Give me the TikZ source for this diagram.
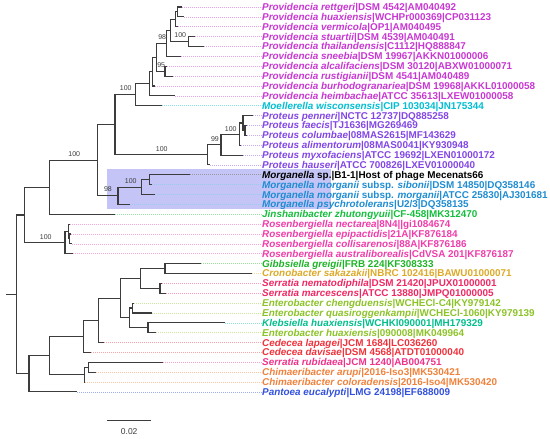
\documentclass[tikz,border=0pt]{standalone}
\usepackage{fontspec}
\setmainfont{Liberation Sans}
\usepackage{tikz}
\definecolor{prov}{RGB}{200,55,210}
\definecolor{moell}{RGB}{0,190,210}
\definecolor{prot}{RGB}{130,70,230}
\definecolor{morg}{RGB}{30,140,210}
\definecolor{jin}{RGB}{20,190,60}
\definecolor{ros}{RGB}{240,60,170}
\definecolor{gibbs}{RGB}{30,180,40}
\definecolor{crono}{RGB}{220,170,40}
\definecolor{serr}{RGB}{240,40,100}
\definecolor{ent}{RGB}{140,195,40}
\definecolor{kleb}{RGB}{0,190,140}
\definecolor{ced}{RGB}{240,50,60}
\definecolor{rub}{RGB}{240,50,140}
\definecolor{chim}{RGB}{240,130,60}
\definecolor{pant}{RGB}{50,80,220}
\definecolor{hilite}{RGB}{196,196,246}
\definecolor{treeline}{RGB}{60,60,60}

\begin{document}
\begin{tikzpicture}[x=1pt,y=-1pt,
  taxon/.style={anchor=west,inner sep=0pt,font=\fontsize{9.9}{10}\selectfont\bfseries,text height=7pt,text depth=0pt},
  boot/.style={inner sep=0pt,font=\fontsize{7}{8}\selectfont,text=treeline},
  branch/.style={draw=treeline,line width=1.1pt},
  elbow/.style={to path={|- (\tikztotarget)}},
  leader/.style={line width=0.6pt,dash pattern=on 1pt off 1pt}]
  \useasboundingbox (0,0) rectangle (550,439);
  \fill[hilite] (107.3,169.3) rectangle (331,209.3);

  \coordinate (t0) at (181.7,7.00);
  \coordinate (t1) at (184.0,16.87);
  \coordinate (t2) at (178.3,26.74);
  \coordinate (t3) at (195.0,36.61);
  \coordinate (t4) at (204.0,46.48);
  \coordinate (t5) at (181.0,56.35);
  \coordinate (t6) at (166.5,66.22);
  \coordinate (t7) at (173.3,76.09);
  \coordinate (t8) at (155.0,85.96);
  \coordinate (t9) at (175.0,95.83);
  \coordinate (t10) at (161.7,105.70);
  \coordinate (t11) at (253.0,115.57);
  \coordinate (t12) at (246.5,125.44);
  \coordinate (t13) at (247.0,135.31);
  \coordinate (t14) at (241.0,145.18);
  \coordinate (t15) at (243.0,155.05);
  \coordinate (t16) at (210.0,164.92);
  \coordinate (t17) at (190.0,174.79);
  \coordinate (t18) at (151.7,184.66);
  \coordinate (t19) at (155.0,194.53);
  \coordinate (t20) at (130.0,204.40);
  \coordinate (t21) at (115.0,214.27);
  \coordinate (t22) at (70.0,224.14);
  \coordinate (t23) at (71.0,234.01);
  \coordinate (t24) at (72.0,243.88);
  \coordinate (t25) at (73.3,253.75);
  \coordinate (t26) at (200.7,263.62);
  \coordinate (t27) at (252.0,273.49);
  \coordinate (t28) at (162.0,283.36);
  \coordinate (t29) at (165.7,293.23);
  \coordinate (t30) at (134.0,303.10);
  \coordinate (t31) at (151.7,312.97);
  \coordinate (t32) at (225.0,322.84);
  \coordinate (t33) at (155.7,332.71);
  \coordinate (t34) at (104.0,342.58);
  \coordinate (t35) at (91.0,352.45);
  \coordinate (t36) at (163.3,362.32);
  \coordinate (t37) at (95.7,372.19);
  \coordinate (t38) at (85.0,382.06);
  \coordinate (t39) at (77.3,391.93);

  \coordinate (n01) at (177.7,11.9);
  \coordinate (n012) at (175.5,19.3);
  \coordinate (n34) at (188.3,41.5);
  \coordinate (n04) at (170.7,30.4);
  \coordinate (n05) at (166.7,43.4);
  \coordinate (n67) at (165.0,71.2);
  \coordinate (n07) at (156.7,57.3);
  \coordinate (n08) at (152.7,71.6);
  \coordinate (n09) at (149.3,83.7);
  \coordinate (n010) at (135.7,94.7);
  \coordinate (nE) at (245.0,130.4);
  \coordinate (nD) at (243.0,123.0);
  \coordinate (nC) at (239.5,134.1);
  \coordinate (nB) at (221.0,144.6);
  \coordinate (nA) at (207.7,154.8);
  \coordinate (n016) at (115.0,124.7);
  \coordinate (m1) at (149.3,179.7);
  \coordinate (m2) at (141.7,187.1);
  \coordinate (m3) at (118.0,195.8);
  \coordinate (nP) at (97.3,160.3);
  \coordinate (nQ) at (49.3,187.3);
  \coordinate (r23) at (69.5,238.9);
  \coordinate (r1) at (68.3,231.5);
  \coordinate (nS) at (65.0,242.6);
  \coordinate (nR) at (24.3,215.0);
  \coordinate (g1) at (165.0,268.6);
  \coordinate (s1) at (160.0,288.3);
  \coordinate (nZ) at (140.7,278.4);
  \coordinate (e1) at (132.6,308.0);
  \coordinate (k1) at (148.0,327.8);
  \coordinate (e2) at (129.5,317.9);
  \coordinate (nY) at (120.7,298.2);
  \coordinate (c1) at (98.3,320.4);
  \coordinate (c2) at (83.3,336.4);
  \coordinate (nW) at (88.3,367.3);
  \coordinate (nV) at (84.3,374.6);
  \coordinate (L2) at (49.3,355.5);
  \coordinate (L1) at (29.0,373.7);
  \coordinate (root) at (16.7,294.4);
  \coordinate (stub) at (6.0,294.4);

  \node[taxon,text=prov] (l0) at (262,7.00) {\textit{Providencia rettgeri}|DSM 4542|AM040492};
  \node[taxon,text=prov] (l1) at (262,16.87) {\textit{Providencia huaxiensis}|WCHPr000369|CP031123};
  \node[taxon,text=prov] (l2) at (262,26.74) {\textit{Providencia vermicola}|OP1|AM040495};
  \node[taxon,text=prov] (l3) at (262,36.61) {\textit{Providencia stuartii}|DSM 4539|AM040491};
  \node[taxon,text=prov] (l4) at (262,46.48) {\textit{Providencia thailandensis}|C1112|HQ888847};
  \node[taxon,text=prov] (l5) at (262,56.35) {\textit{Providencia sneebia}|DSM 19967|AKKN01000006};
  \node[taxon,text=prov] (l6) at (262,66.22) {\textit{Providencia alcalifaciens}|DSM 30120|ABXW01000071};
  \node[taxon,text=prov] (l7) at (262,76.09) {\textit{Providencia rustigianii}|DSM 4541|AM040489};
  \node[taxon,text=prov] (l8) at (262,85.96) {\textit{Providencia burhodogranariea}|DSM 19968|AKKL01000058};
  \node[taxon,text=prov] (l9) at (262,95.83) {\textit{Providencia heimbachae}|ATCC 35613|LXEW01000058};
  \node[taxon,text=moell] (l10) at (262,105.70) {\textit{Moellerella wisconsensis}|CIP 103034|JN175344};
  \node[taxon,text=prot] (l11) at (262,115.57) {\textit{Proteus penneri}|NCTC 12737|DQ885258};
  \node[taxon,text=prot] (l12) at (262,125.44) {\textit{Proteus faecis}|TJ1636|MG269469};
  \node[taxon,text=prot] (l13) at (262,135.31) {\textit{Proteus columbae}|08MAS2615|MF143629};
  \node[taxon,text=prot] (l14) at (262,145.18) {\textit{Proteus alimentorum}|08MAS0041|KY930948};
  \node[taxon,text=prot] (l15) at (262,155.05) {\textit{Proteus myxofaciens}|ATCC 19692|LXEN01000172};
  \node[taxon,text=prot] (l16) at (262,164.92) {\textit{Proteus hauseri}|ATCC 700826|LXEV01000040};
  \node[taxon,text=black] (l17) at (262,174.79) {\textit{Morganella} sp.|B1-1|Host of phage Mecenats66};
  \node[taxon,text=morg] (l18) at (262,184.66) {\textit{Morganella morganii} subsp. \textit{sibonii}|DSM 14850|DQ358146};
  \node[taxon,text=morg] (l19) at (262,194.53) {\textit{Morganella morganii} subsp. \textit{morganii}|ATCC 25830|AJ301681};
  \node[taxon,text=morg] (l20) at (262,204.40) {\textit{Morganella psychrotolerans}|U2/3|DQ358135};
  \node[taxon,text=jin] (l21) at (262,214.27) {\textit{Jinshanibacter zhutongyuii}|CF-458|MK312470};
  \node[taxon,text=ros] (l22) at (262,224.14) {\textit{Rosenbergiella nectarea}|8N4||gi1084674};
  \node[taxon,text=ros] (l23) at (262,234.01) {\textit{Rosenbergiella epipactidis}|21A|KF876184};
  \node[taxon,text=ros] (l24) at (262,243.88) {\textit{Rosenbergiella collisarenosi}|88A|KF876186};
  \node[taxon,text=ros] (l25) at (262,253.75) {\textit{Rosenbergiella australiborealis}|CdVSA 201|KF876187};
  \node[taxon,text=gibbs] (l26) at (262,263.62) {\textit{Gibbsiella greigii}|FRB 224|KF308333};
  \node[taxon,text=crono] (l27) at (262,273.49) {\textit{Cronobacter sakazakii}|NBRC 102416|BAWU01000071};
  \node[taxon,text=serr] (l28) at (262,283.36) {\textit{Serratia nematodiphila}|DSM 21420|JPUX01000001};
  \node[taxon,text=serr] (l29) at (262,293.23) {\textit{Serratia marcescens}|ATCC 13880|JMPQ01000005};
  \node[taxon,text=ent] (l30) at (262,303.10) {\textit{Enterobacter chengduensis}|WCHECl-C4|KY979142};
  \node[taxon,text=ent] (l31) at (262,312.97) {\textit{Enterobacter quasiroggenkampii}|WCHECl-1060|KY979139};
  \node[taxon,text=kleb] (l32) at (262,322.84) {\textit{Klebsiella huaxiensis}|WCHKl090001|MH179329};
  \node[taxon,text=ent] (l33) at (262,332.71) {\textit{Enterobacter huaxiensis}|090008|MK049964};
  \node[taxon,text=ced] (l34) at (262,342.58) {\textit{Cedecea lapagei}|JCM 1684|LC036260};
  \node[taxon,text=ced] (l35) at (262,352.45) {\textit{Cedecea davisae}|DSM 4568|ATDT01000040};
  \node[taxon,text=rub] (l36) at (262,362.32) {\textit{Serratia rubidaea}|JCM 1240|AB004751};
  \node[taxon,text=chim] (l37) at (262,372.19) {\textit{Chimaeribacter arupi}|2016-Iso3|MK530421};
  \node[taxon,text=chim] (l38) at (262,382.06) {\textit{Chimaeribacter coloradensis}|2016-Iso4|MK530420};
  \node[taxon,text=pant] (l39) at (262,391.93) {\textit{Pantoea eucalypti}|LMG 24198|EF688009};

  \path[leader]
    (t0) edge[prov!45] (l0)   (t1) edge[prov!45] (l1)   (t2) edge[prov!45] (l2)
    (t3) edge[prov!45] (l3)   (t4) edge[prov!45] (l4)   (t5) edge[prov!45] (l5)
    (t6) edge[prov!45] (l6)   (t7) edge[prov!45] (l7)   (t8) edge[prov!45] (l8)
    (t9) edge[prov!45] (l9)   (t10) edge[moell!45] (l10)
    (t11) edge[prot!45] (l11) (t12) edge[prot!45] (l12) (t13) edge[prot!45] (l13)
    (t14) edge[prot!45] (l14) (t15) edge[prot!45] (l15) (t16) edge[prot!45] (l16)
    (t17) edge[black!40] (l17) (t18) edge[morg!45] (l18) (t19) edge[morg!45] (l19)
    (t20) edge[morg!45] (l20) (t21) edge[jin!45] (l21)
    (t22) edge[ros!45] (l22)  (t23) edge[ros!45] (l23)  (t24) edge[ros!45] (l24)
    (t25) edge[ros!45] (l25)  (t26) edge[gibbs!45] (l26) (t27) edge[crono!45] (l27)
    (t28) edge[serr!45] (l28) (t29) edge[serr!45] (l29)
    (t30) edge[ent!45] (l30)  (t31) edge[ent!45] (l31)  (t32) edge[kleb!45] (l32)
    (t33) edge[ent!45] (l33)  (t34) edge[ced!45] (l34)  (t35) edge[ced!45] (l35)
    (t36) edge[rub!45] (l36)  (t37) edge[chim!45] (l37) (t38) edge[chim!45] (l38)
    (t39) edge[pant!45] (l39);

  \path[branch,every edge/.style={draw,elbow}]
    (n01) edge (t0) (n01) edge (t1) (n012) edge (n01) (n012) edge (t2)
    (n34) edge (t3) (n34) edge (t4) (n04) edge (n012) (n04) edge (n34)
    (n05) edge (n04) (n05) edge (t5) (n67) edge (t6) (n67) edge (t7)
    (n07) edge (n05) (n07) edge (n67) (n08) edge (n07) (n08) edge (t8)
    (n09) edge (n08) (n09) edge (t9) (n010) edge (n09) (n010) edge (t10)
    (nE) edge (t12) (nE) edge (t13) (nD) edge (t11) (nD) edge (nE)
    (nC) edge (nD) (nC) edge (t14) (nB) edge (nC) (nB) edge (t15)
    (nA) edge (nB) (nA) edge (t16) (n016) edge (n010) (n016) edge (nA)
    (m1) edge (t17) (m1) edge (t18) (m2) edge (m1) (m2) edge (t19)
    (m3) edge (m2) (m3) edge (t20) (nP) edge (n016) (nP) edge (m3)
    (nQ) edge (nP) (nQ) edge (t21)
    (r23) edge (t23) (r23) edge (t24) (r1) edge (t22) (r1) edge (r23)
    (nS) edge (r1) (nS) edge (t25) (nR) edge (nQ) (nR) edge (nS)
    (g1) edge (t26) (g1) edge (t27) (s1) edge (t28) (s1) edge (t29)
    (nZ) edge (g1) (nZ) edge (s1) (e1) edge (t30) (e1) edge (t31)
    (k1) edge (t32) (k1) edge (t33) (e2) edge (e1) (e2) edge (k1)
    (nY) edge (nZ) (nY) edge (e2) (c1) edge (nY) (c1) edge (t34)
    (c2) edge (c1) (c2) edge (t35) (nW) edge (t36) (nW) edge (t37)
    (nV) edge (nW) (nV) edge (t38) (L2) edge (c2) (L2) edge (nV)
    (L1) edge (L2) (L1) edge (t39) (root) edge (nR) (root) edge (L1);
  \draw[branch] (stub) -- (root);

  \node[boot] (b1) at (180.2,35.2) {100};
  \node[boot] (b2) at (162.2,36.7) {98};
  \node[boot] (b3) at (161.2,65.0) {95};
  \node[boot] (b4) at (125.8,88.5) {100};
  \node[boot] (b5) at (230.8,129.5) {100};
  \node[boot] (b6) at (215.0,139.2) {99};
  \node[boot] (b7) at (161.8,149.2) {100};
  \node[boot] (b8) at (130.8,180.8) {100};
  \node[boot] (b9) at (108.0,189.2) {98};
  \node[boot] (b10) at (74.2,154.2) {100};
  \node[boot] (b11) at (45.8,236.8) {100};

  \coordinate (sb1) at (107.3,420.7);
  \coordinate (sb2) at (151.0,420.7);
  \draw[branch] (sb1) -- (sb2);
  \node[inner sep=0pt,font=\fontsize{8.5}{9}\selectfont,text=treeline] (sblab) at (129.2,431.7) {0.02};
\end{tikzpicture}
\end{document}
